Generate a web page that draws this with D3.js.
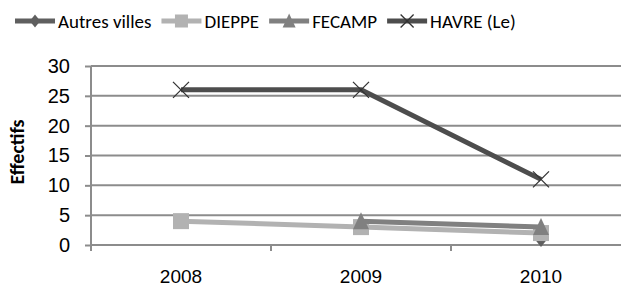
<!DOCTYPE html>
<html>
<head>
<meta charset="utf-8">
<script src="https://cdn.jsdelivr.net/npm/d3@7"></script>
<style>
  body { margin: 0; background: #fff; }
  svg { display: block; font-family: Carlito, Calibri, "Liberation Sans", sans-serif; }
</style>
</head>
<body>
<svg id="chart" width="621" height="292"></svg>
<script>
const years = ["2008", "2009", "2010"];
const yTicks = [0, 5, 10, 15, 20, 25, 30];
const seriesNames = ["Autres villes", "DIEPPE", "FECAMP", "HAVRE (Le)"];
// null = no value that year
const autresVilles = [null, null, 1];
const dieppe = [4, 3, 2];
const fecamp = [null, 4, 3];
const havre = [26, 26, 11];

const seriesValues = [autresVilles, dieppe, fecamp, havre];
const colors = ["#5f5f5f", "#b2b2b2", "#808080", "#4d4d4d"];
const symbols = ["diamond", "square", "triangle", "cross"];

const svg = d3.select("#chart");

const x = d3.scaleBand().domain(years).range([91, 631]);
const y = d3.scaleLinear().domain([0, 30]).range([245, 66]);

//Gridlines + y axis
const yAxis = svg.append("g")
  .attr("transform", "translate(91,0)")
  .call(d3.axisLeft(y).tickValues(yTicks).tickSize(6).tickPadding(15));
yAxis.select(".domain").remove();
yAxis.selectAll("line").attr("stroke", "#8c8c8c").attr("stroke-width", 2);
yAxis.selectAll("text")
  .attr("font-size", 20)
  .attr("fill", "#000")
  .attr("font-family", null);

svg.append("g")
  .selectAll("line")
  .data(yTicks)
  .join("line")
  .attr("x1", 91)
  .attr("x2", 631)
  .attr("y1", d => y(d))
  .attr("y2", d => y(d))
  .attr("stroke", "#8c8c8c")
  .attr("stroke-width", 2);

svg.append("line")
  .attr("x1", 91).attr("x2", 91)
  .attr("y1", y(30)).attr("y2", y(0) + 6)
  .attr("stroke", "#8c8c8c").attr("stroke-width", 2);

//x axis ticks and labels
const xAxis = svg.append("g")
  .attr("transform", `translate(0,${y(0)})`)
  .call(d3.axisBottom(x).tickSize(0).tickPadding(25));
xAxis.select(".domain").remove();
xAxis.selectAll("text").attr("font-size", 19).attr("fill", "#000").attr("font-family", null);

svg.append("g")
  .selectAll("line")
  .data(years.slice(1))
  .join("line")
  .attr("x1", d => x(d))
  .attr("x2", d => x(d))
  .attr("y1", y(0))
  .attr("y2", y(0) + 6)
  .attr("stroke", "#8c8c8c")
  .attr("stroke-width", 2);

//Axis title
svg.append("text")
  .attr("transform", "translate(24,152) rotate(-90)")
  .attr("text-anchor", "middle")
  .attr("font-size", 20)
  .attr("font-weight", "bold")
  .text("Effectifs");

function drawMarker(g, kind, color, size) {
  const h = size / 2;
  if (kind === "cross") {
    g.append("path")
      .attr("d", `M${-h},${-h}L${h},${h}M${-h},${h}L${h},${-h}`)
      .attr("stroke", "#333")
      .attr("stroke-width", 1.3)
      .attr("fill", "none");
  } else if (kind === "square") {
    g.append("rect")
      .attr("x", -h).attr("y", -h)
      .attr("width", size).attr("height", size)
      .attr("fill", color);
  } else if (kind === "triangle") {
    g.append("path")
      .attr("d", `M0,${-h - 1}L${h},${h}L${-h},${h}Z`)
      .attr("fill", color);
  } else {
    g.append("path")
      .attr("d", `M0,${-h}L${h * 0.8},0L0,${h}L${-h * 0.8},0Z`)
      .attr("fill", color);
  }
}

//Series lines
const line = d3.line()
  .defined(d => d.v !== null)
  .x(d => x(d.year) + x.bandwidth() / 2)
  .y(d => y(d.v));

seriesValues.forEach((vals, i) => {
  const pts = vals.map((v, j) => ({ year: years[j], v }));
  svg.append("path")
    .datum(pts)
    .attr("d", line)
    .attr("fill", "none")
    .attr("stroke", colors[i])
    .attr("stroke-width", 5);
  pts.filter(p => p.v !== null).forEach(p => {
    const g = svg.append("g")
      .attr("transform", `translate(${x(p.year) + x.bandwidth() / 2},${y(p.v)})`);
    drawMarker(g, symbols[i], colors[i], 16);
  });
});

//Legend
let lx = 15;
seriesNames.forEach((name, i) => {
  const g = svg.append("g").attr("transform", `translate(${lx},21)`);
  g.append("line")
    .attr("x1", 0).attr("x2", 40)
    .attr("stroke", colors[i])
    .attr("stroke-width", 5);
  const m = g.append("g").attr("transform", "translate(20,0)");
  drawMarker(m, symbols[i], colors[i], 13);
  const t = g.append("text")
    .attr("x", 43)
    .attr("dy", "0.35em")
    .attr("font-size", 19)
    .text(name);
  lx += 43 + t.node().getComputedTextLength() + 10;
});
</script>
</body>
</html>
